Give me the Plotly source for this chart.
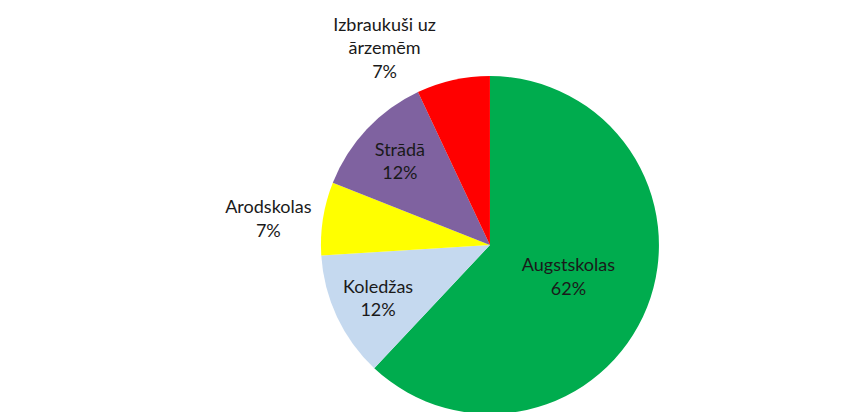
import plotly.graph_objects as go

labels = ["Augstskolas", "Koledžas", "Arodskolas", "Strādā", "Izbraukuši uz<br>ārzemēm"]
values = [62, 12, 7, 12, 7]
colors = ["#00AC4E", "#C5D9EF", "#FFFF00", "#7F62A0", "#FF0000"]
text_positions = ["inside", "inside", "outside", "inside", "outside"]

font = dict(family="Lato, Open Sans, sans-serif", size=18, color="#1A1A1A")

fig = go.Figure(
    go.Pie(
        labels=labels,
        values=values,
        sort=False,
        direction="clockwise",
        rotation=0,
        marker=dict(colors=colors, line=dict(width=0)),
        texttemplate="%{label}<br>%{percent:.0%}",
        textposition=text_positions,
        insidetextorientation="horizontal",
        textfont=font,
        outsidetextfont=font,
        insidetextfont=font,
        domain=dict(x=[0.2, 0.925], y=[0.0, 1.0]),
        showlegend=False,
        hoverinfo="label+percent",
    )
)

fig.update_layout(
    width=868,
    height=412,
    margin=dict(l=0, r=0, t=8, b=6),
    paper_bgcolor="white",
    plot_bgcolor="white",
    showlegend=False,
)

fig.write_html("out.html")
